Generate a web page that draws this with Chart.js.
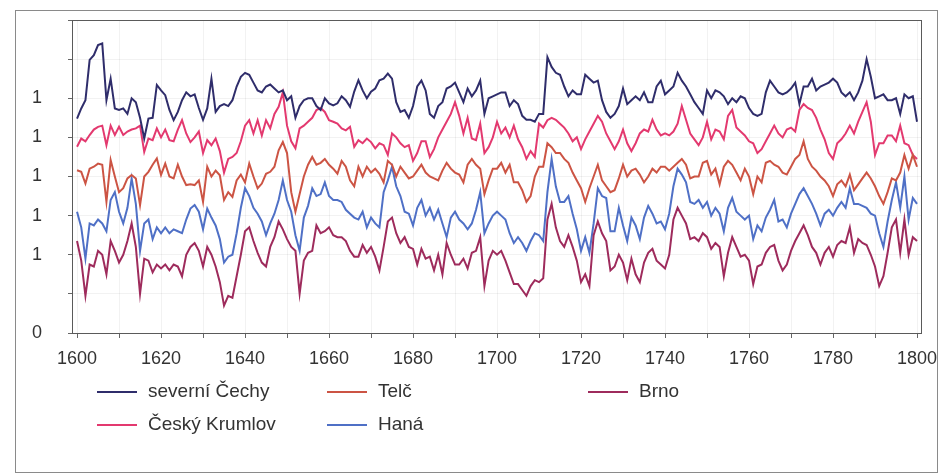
<!DOCTYPE html>
<html>
<head>
<meta charset="utf-8">
<script src="https://cdn.jsdelivr.net/npm/chart.js@4"></script>
<style>
  html, body { margin: 0; padding: 0; background: #fff; }
</style>
</head>
<body>
<canvas id="graf" width="944" height="475"></canvas>
<script>
// Roky 1600-1800, jedna hodnota na rok
var prvniRok = 1600;
var posledniRok = 1800;

var severniCechy = [
    5.48, 5.74, 5.95, 6.98, 7.1, 7.36, 7.4, 5.95, 6.5, 5.74,
    5.7, 5.74, 5.6, 6.0, 5.9, 5.5, 4.97, 5.48, 5.5, 6.34,
    6.2, 6.08, 5.7, 5.44, 5.65, 5.95, 6.15, 6.05, 6.1, 5.75,
    5.45, 5.74, 6.5, 5.65, 5.8, 5.85, 5.8, 5.95, 6.3, 6.55,
    6.65, 6.6, 6.4, 6.2, 6.15, 6.3, 6.35, 6.25, 6.15, 6.2,
    5.95, 6.05, 5.5, 5.8, 5.95, 6.0, 6.0, 5.8, 5.7, 6.0,
    5.87, 5.82, 5.87, 6.05, 5.95, 5.78, 6.17, 6.46, 6.2, 6.0,
    6.17, 6.25, 6.46, 6.5, 6.63, 6.5, 5.9, 5.65, 5.7, 5.5,
    5.8, 6.3, 6.45, 6.2, 5.6, 5.5, 5.8, 5.9, 6.25, 6.3,
    6.4, 6.15, 5.9, 6.25, 6.05, 6.2, 6.45, 5.6, 6.0, 6.05,
    6.1, 6.15, 6.15, 5.8, 5.95, 5.85, 5.55, 5.45, 5.45, 5.4,
    5.6, 5.6, 7.05, 6.8, 6.65, 6.6, 6.3, 6.05, 6.2, 6.1,
    6.1, 6.6, 6.5, 6.4, 6.45, 5.95, 5.65, 5.5, 5.6, 5.8,
    6.25, 5.85, 5.95, 6.05, 5.95, 6.15, 5.9, 5.9, 6.3, 6.45,
    6.1, 6.2, 6.3, 6.65, 6.45, 6.3, 6.1, 5.9, 5.75, 5.6,
    6.2, 6.0, 6.2, 6.15, 6.05, 5.85, 6.0, 5.9, 6.05, 6.0,
    5.75, 5.6, 5.55, 5.6, 6.15, 6.45, 6.3, 6.15, 6.1, 6.15,
    6.25, 6.4, 5.85, 6.3, 6.3, 6.5, 6.2, 6.3, 6.35, 6.4,
    6.5, 6.4, 6.15, 6.05, 6.15, 5.95, 6.15, 6.45, 7.0, 6.55,
    6.0, 6.05, 6.1, 5.95, 5.95, 6.0, 5.6, 6.1, 6.0, 6.05,
    5.4
];

var ceskyKrumlov = [
    4.76, 4.97, 4.9, 5.06, 5.2, 5.27, 5.3, 4.8, 5.3, 5.06,
    5.27, 5.06, 5.15, 5.2, 5.23, 5.3, 4.63, 4.97, 4.93, 5.23,
    5.0, 5.2, 4.93, 4.9, 5.2, 5.44, 5.1, 4.88, 5.0, 5.15,
    4.6, 4.93, 4.8, 4.97, 4.65, 4.1, 4.45, 4.5, 4.6, 4.9,
    5.3, 5.44, 5.1, 5.44, 5.05, 5.44, 5.23, 5.6, 5.78, 6.15,
    5.3, 4.9, 4.72, 5.23, 5.3, 5.4, 5.5, 5.7, 5.75, 5.65,
    5.44, 5.4, 5.35, 5.23, 5.18, 5.27, 4.76, 4.93, 4.85, 4.97,
    4.88, 4.72, 4.85, 4.8, 4.55, 5.1, 5.0, 4.85, 4.75, 4.8,
    4.4, 4.6, 4.9, 4.9, 4.5, 4.7, 5.0, 5.2, 5.4, 5.6,
    5.9, 5.55, 5.1, 5.5, 4.97, 4.93, 5.35, 4.6, 4.75, 5.0,
    5.4, 5.1, 5.25, 5.0, 5.3, 4.95, 4.75, 4.45, 4.65, 4.5,
    5.35, 5.25, 5.44, 5.5, 5.45, 5.35, 5.25, 5.1, 4.9, 5.0,
    4.7, 4.95, 5.15, 5.35, 5.55, 5.4, 5.1, 4.9, 4.7, 4.9,
    5.2, 4.85, 4.65, 4.85, 5.1, 5.2, 5.15, 5.45, 5.2, 5.05,
    5.1, 5.05, 5.15, 5.35, 5.8, 5.45, 5.1, 4.95, 4.8, 5.0,
    5.4, 4.95, 5.2, 5.15, 4.95, 5.55, 5.7, 5.25, 5.15, 5.05,
    4.9, 4.85, 4.6, 4.7, 4.9, 5.1, 5.3, 5.1, 5.0, 5.2,
    5.25, 5.15, 5.7, 5.85, 5.75, 5.7, 5.5, 5.2, 4.95, 4.6,
    4.45, 4.85, 4.95, 5.1, 5.3, 5.1, 5.4, 5.65, 5.9, 5.4,
    4.55, 4.85, 4.85, 5.05, 5.05, 4.9, 5.3, 4.85, 4.8, 4.55,
    4.45
];

var telc = [
    4.16, 4.12, 3.82, 4.2, 4.25, 4.33, 4.3, 3.35, 4.42, 4.0,
    3.6, 3.7, 3.95, 4.04, 3.95, 3.27, 4.0, 4.12, 4.3, 4.46,
    4.04, 4.33, 4.0, 3.95, 4.3, 4.0, 3.78, 3.8, 3.78, 3.9,
    3.35, 4.25, 4.0, 4.15, 4.03, 3.4, 3.6, 3.48, 3.9, 4.05,
    3.85, 4.33, 4.0, 3.7, 3.82, 4.07, 4.12, 4.25, 4.67, 4.88,
    4.6, 3.6, 3.1, 3.55, 4.0, 4.3, 4.5, 4.3, 4.35, 4.45,
    4.3, 4.2, 4.07, 4.4, 4.25, 3.9, 3.75, 4.25, 4.0, 4.25,
    4.1, 4.2, 4.07, 3.85, 4.4, 4.3, 4.0, 4.25, 4.1, 3.95,
    4.0, 4.15, 4.3, 4.1, 4.0, 3.95, 3.9, 4.15, 4.35, 4.2,
    4.1, 4.05, 3.85, 4.3, 4.45, 4.3, 4.2, 3.55, 3.9, 4.2,
    4.2, 4.35, 4.1, 4.3, 3.85, 3.85, 3.65, 3.35, 3.5, 4.0,
    4.25, 4.25, 4.85, 4.75, 4.6, 4.6, 4.45, 4.35, 4.1, 3.9,
    3.7, 3.35, 3.7, 4.0, 4.3, 3.9, 3.75, 3.6, 3.65, 3.95,
    4.3, 4.0, 4.15, 4.2, 4.05, 3.85, 4.0, 4.2, 4.1, 4.25,
    4.25, 4.15, 4.25, 4.35, 4.45, 4.3, 3.95, 4.0, 4.0, 4.35,
    4.4, 4.05, 4.2, 3.8, 4.25, 4.4, 4.3, 4.1, 3.9, 4.2,
    4.0, 3.55, 4.0, 3.85, 4.35, 4.4, 4.3, 4.25, 4.1, 4.05,
    4.25, 4.45, 4.55, 4.9, 4.45, 4.25, 4.15, 4.0, 3.9, 3.75,
    3.5, 3.8, 3.9, 3.75, 4.05, 3.65, 3.8, 3.95, 4.1, 3.95,
    3.75, 3.5, 3.3, 3.6, 3.95, 3.9, 4.1, 4.55, 4.2, 4.55,
    4.25
];

var hana = [
    3.1, 2.7, 1.9, 2.8, 2.75, 2.9, 2.8, 2.6, 3.4, 3.6,
    3.1, 2.8, 3.2, 3.95, 3.3, 2.1, 2.8, 2.9, 2.4, 2.7,
    2.55, 2.7, 2.55, 2.65, 2.6, 2.55, 2.9, 3.18, 3.27, 3.1,
    2.65, 3.18, 2.95, 2.75, 2.4, 1.8, 1.95, 2.0, 2.55, 3.2,
    3.7, 3.5, 3.2, 3.05, 2.85, 2.5, 2.8, 3.05, 3.4, 3.9,
    3.4, 3.1, 2.5, 2.1, 2.95, 3.25, 3.7, 3.5, 3.55, 3.85,
    3.5, 3.4, 3.4, 3.35, 3.15, 3.05, 2.95, 2.9, 3.1, 2.7,
    2.95, 2.8, 2.7, 3.6, 3.9, 4.25, 3.75, 3.5, 3.1, 3.05,
    2.75, 3.2, 3.4, 3.0, 3.2, 2.9, 3.15, 2.8, 2.45, 2.95,
    3.1, 2.9, 2.8, 2.65, 2.8, 3.15, 3.6, 2.55, 2.8, 3.0,
    3.1, 3.0, 2.9, 2.55, 2.3, 2.45, 2.3, 2.1, 2.35, 2.55,
    2.5, 2.35, 3.6, 4.45, 3.75, 3.35, 3.35, 3.5, 3.05, 2.65,
    2.1, 2.45, 2.05, 2.8, 3.7, 3.5, 3.45, 2.6, 2.6, 3.2,
    2.75, 2.35, 2.95, 2.75, 2.4, 2.95, 3.25, 3.05, 2.8, 2.85,
    2.65, 3.05, 3.75, 4.2, 4.05, 3.85, 3.35, 3.3, 3.4, 3.2,
    3.35, 3.0, 3.2, 3.05, 2.6, 3.2, 3.45, 3.1, 3.0, 2.9,
    3.0, 2.4, 2.75, 2.6, 2.95, 3.15, 3.4, 2.85, 2.9, 2.7,
    3.05, 3.3, 3.55, 3.7, 3.5, 3.3, 3.05, 2.75, 3.05, 3.15,
    3.0, 3.2, 3.35, 3.2, 3.7, 3.3, 3.3, 3.25, 3.2, 3.05,
    3.0, 2.55, 2.2, 2.85, 3.4, 3.85, 3.2, 4.0, 2.9, 3.45,
    3.3
];

var brno = [
    2.35, 1.85, 0.95, 1.75, 1.7, 2.1, 2.0, 1.5, 2.35, 2.1,
    1.8, 2.0, 2.35, 2.8, 2.2, 1.0, 1.9, 1.85, 1.55, 1.75,
    1.65, 1.75, 1.6, 1.75, 1.7, 1.45, 2.0, 2.2, 2.3, 2.1,
    1.7, 2.2, 2.0, 1.7, 1.3, 0.7, 0.95, 0.9, 1.45, 2.0,
    2.6, 2.7, 2.35, 2.05, 1.8, 1.7, 2.2, 2.45, 2.85, 2.65,
    2.4, 2.2, 2.1, 1.0, 1.85, 2.05, 2.1, 2.75, 2.55, 2.6,
    2.7, 2.5, 2.45, 2.45, 2.35, 2.1, 1.95, 1.95, 2.25, 2.05,
    2.2, 1.95, 1.6, 2.2, 2.85, 2.95, 2.55, 2.3, 2.45, 2.2,
    2.15, 1.75, 2.15, 1.9, 1.95, 1.6, 2.0, 1.5, 2.3, 2.0,
    1.75, 1.75, 1.9, 1.65, 2.05, 2.1, 2.45, 1.2, 1.85, 2.1,
    2.0, 2.1, 1.85, 1.55, 1.25, 1.25, 1.1, 0.95, 1.2, 1.35,
    1.3, 1.4, 2.9, 3.3, 2.7, 2.35, 2.2, 2.5, 2.2, 1.85,
    1.3, 1.5, 1.2, 2.5, 2.85, 2.55, 2.35, 1.6, 1.7, 2.0,
    1.8, 1.35, 1.9, 1.5, 1.3, 1.8, 2.05, 2.15, 1.85, 1.75,
    1.65, 2.0, 2.9, 3.2, 3.0, 2.8, 2.4, 2.45, 2.35, 2.55,
    2.45, 2.15, 2.3, 2.2, 1.45, 2.05, 2.45, 2.2, 1.95, 2.0,
    1.85, 1.25, 1.7, 1.75, 2.05, 2.2, 2.25, 1.85, 1.6, 1.75,
    2.1, 2.35, 2.55, 2.75, 2.5, 2.2, 2.05, 1.75, 2.05, 2.2,
    1.95, 2.25, 2.35, 2.3, 2.7, 2.05, 2.4, 2.3, 2.25, 2.0,
    1.7, 1.2, 1.45, 2.05, 2.7, 2.9, 2.05, 2.9, 2.0, 2.45,
    2.35
];

// popisky osy y tak, jak jsou v předloze (0 dole, pak pět jedniček)
var popiskyY = ['0', '', '1', '1', '1', '1', '1', '', ''];

var pismo = '"Liberation Sans", Arial, Helvetica, sans-serif';

function naBody(hodnoty) {
    return hodnoty.map(function (v, i) {
        return { x: prvniRok + i, y: v };
    });
}

function rada(nazev, hodnoty, barva) {
    return {
        label: nazev,
        data: naBody(hodnoty),
        borderColor: barva,
        backgroundColor: barva,
        borderWidth: 2,
        pointRadius: 0,
        tension: 0,
        fill: false
    };
}

// poradi = poradi v legende (po radcich)
var dataGrafu = {
    datasets: [
        rada('severní Čechy', severniCechy, '#2f2d6b'),
        rada('Telč', telc, '#cc5444'),
        rada('Brno', brno, '#9e2b5c'),
        rada('Český Krumlov', ceskyKrumlov, '#e3396f'),
        rada('Haná', hana, '#4f70c6')
    ]
};

// rozmisteni legendy pod grafem
var mistaLegendy = [
    { x: 97, y: 392 }, { x: 327, y: 392 }, { x: 588, y: 392 },
    { x: 97, y: 425 }, { x: 327, y: 425 }
];

var ramecky = {
    id: 'ramecky',
    beforeDraw: function (chart) {
        var c = chart.ctx;
        c.save();
        c.fillStyle = '#ffffff';
        c.fillRect(0, 0, chart.width, chart.height);
        c.restore();
    },
    afterDraw: function (chart) {
        var c = chart.ctx;
        var a = chart.chartArea;
        c.save();
        c.strokeStyle = '#5a5a5a';
        c.lineWidth = 1;
        c.strokeRect(Math.round(a.left) + 0.5, Math.round(a.top) + 0.5,
            Math.round(a.right - a.left), Math.round(a.bottom - a.top));
        c.strokeStyle = '#8a8a8a';
        c.strokeRect(15.5, 10.5, 922, 462);

        c.font = '19px ' + pismo;
        c.textBaseline = 'middle';
        c.fillStyle = '#333';
        chart.data.datasets.forEach(function (ds, i) {
            var m = mistaLegendy[i];
            c.strokeStyle = ds.borderColor;
            c.lineWidth = 2;
            c.beginPath();
            c.moveTo(m.x, m.y);
            c.lineTo(m.x + 40, m.y);
            c.stroke();
            c.fillText(ds.label, m.x + 51, m.y);
        });
        c.restore();
    }
};

var graf = new Chart(document.getElementById('graf').getContext('2d'), {
    type: 'line',
    data: dataGrafu,
    plugins: [ramecky],
    options: {
        responsive: false,
        animation: false,
        layout: { padding: { left: 0, right: 23, top: 20, bottom: 100 } },
        plugins: {
            legend: { display: false },
            tooltip: { enabled: false }
        },
        scales: {
            x: {
                type: 'linear',
                min: 1598.8,
                max: 1800.95,
                afterBuildTicks: function (osa) {
                    var t = [];
                    for (var r = prvniRok; r <= posledniRok; r += 10) t.push({ value: r });
                    osa.ticks = t;
                },
                afterFit: function (osa) {
                    osa.height = 42;
                    osa.paddingLeft = 0;
                    osa.paddingRight = 0;
                },
                grid: {
                    color: 'rgba(0,0,0,0.05)',
                    tickColor: '#666',
                    tickLength: 5
                },
                border: { color: '#5a5a5a' },
                ticks: {
                    autoSkip: false,
                    maxRotation: 0,
                    padding: 10,
                    color: '#333',
                    font: { family: pismo, size: 18 },
                    callback: function (v) { return v % 20 === 0 ? String(v) : ''; }
                }
            },
            y: {
                min: 0,
                max: 8,
                afterFit: function (osa) {
                    osa.width = 72;
                    osa.paddingTop = 0;
                    osa.paddingBottom = 0;
                },
                grid: {
                    color: 'rgba(0,0,0,0.05)',
                    tickColor: '#666',
                    tickLength: 4
                },
                border: { color: '#5a5a5a' },
                ticks: {
                    stepSize: 1,
                    padding: 26,
                    color: '#333',
                    font: { family: pismo, size: 18 },
                    callback: function (v) { return popiskyY[v]; }
                }
            }
        }
    }
});
</script>
</body>
</html>
